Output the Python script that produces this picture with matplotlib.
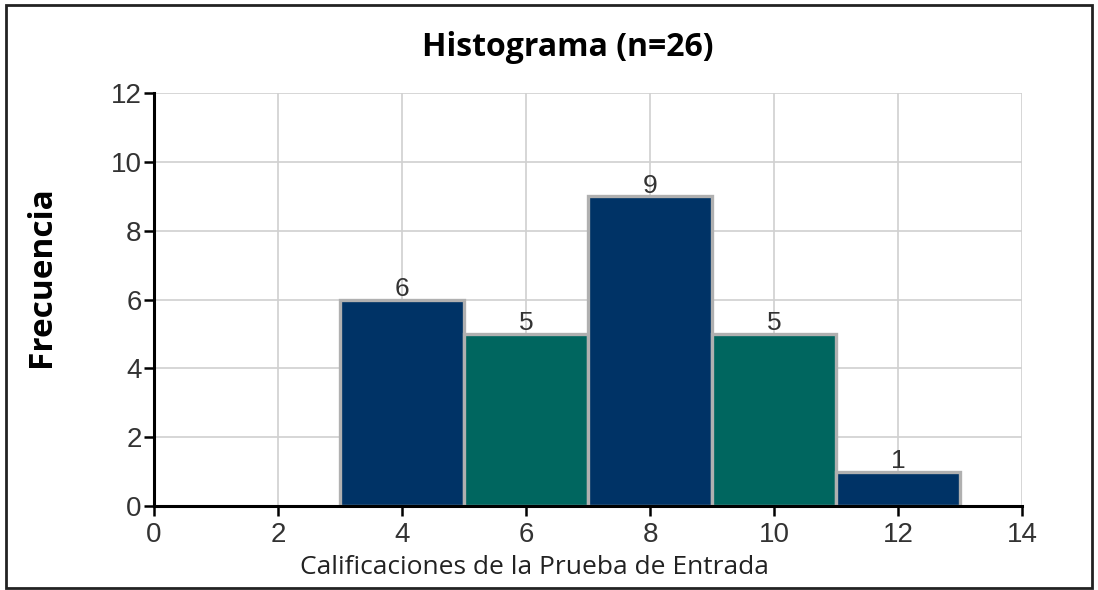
import matplotlib
matplotlib.use("Agg")
import matplotlib.pyplot as plt
from matplotlib.patches import Rectangle

bin_edges = [3, 5, 7, 9, 11, 13]
frequencies = [6, 5, 9, 5, 1]
bar_colors = ["#003366", "#00665f", "#003366", "#00665f", "#003366"]
x_ticks = [0, 2, 4, 6, 8, 10, 12, 14]
y_ticks = [0, 2, 4, 6, 8, 10, 12]

fig = plt.figure(figsize=(10.98, 5.90), dpi=100)
ax = fig.add_axes([154/1098, 1-506/590, (1022-154)/1098, (506-93)/590])

lefts = bin_edges[:-1]
widths = [b - a for a, b in zip(bin_edges[:-1], bin_edges[1:])]
bars = ax.bar(lefts, frequencies, width=widths, align="edge", color=bar_colors,
              edgecolor="#b0b0b0", linewidth=2.4, zorder=3)
for rect, f in zip(bars, frequencies):
    ax.annotate(str(f), (rect.get_x() + rect.get_width()/2, rect.get_height()),
                xytext=(0, -1), textcoords="offset points", ha="center", va="bottom",
                fontsize=19, family="Liberation Sans", color="#333333", zorder=4)

ax.set_xlim(0, 14)
ax.set_ylim(0, 12)
ax.set_xticks(x_ticks)
ax.set_yticks(y_ticks)
ax.grid(True, color="#d0d0d0", linewidth=1.2, zorder=0)
ax.set_axisbelow(True)
for s in ["top", "right"]:
    ax.spines[s].set_visible(False)
for s in ["left", "bottom"]:
    ax.spines[s].set_linewidth(2.2)
    ax.spines[s].set_color("black")
    ax.spines[s].set_zorder(5)
ax.tick_params(direction="out", length=7.5, width=1.8, labelsize=20,
               colors="black", labelcolor="#333333")
ax.tick_params(axis="x", pad=4)
ax.tick_params(axis="y", pad=1.5)
for lab in ax.get_xticklabels() + ax.get_yticklabels():
    lab.set_family("Liberation Sans")

fig.text(534/1098, 1-568/590, "Calificaciones de la Prueba de Entrada", ha="center",
         va="center", fontsize=19, family="Open Sans", color="#222222")
fig.text(42/1098, 1-277/590, "Frecuencia", rotation=90, ha="center", va="center",
         fontsize=24, fontweight="bold", family="Open Sans", color="black")
fig.text(568/1098, 1-48/590, "Histograma (n=26)", ha="center", va="center",
         fontsize=23, fontweight="bold", family="Open Sans", color="black")

fig.patches.append(Rectangle((6/1098, 1-588/590), (1092-6)/1098, (588-5)/590,
                             transform=fig.transFigure, fill=False,
                             edgecolor="#222222", linewidth=2))

fig.savefig("out.png", dpi=100)
